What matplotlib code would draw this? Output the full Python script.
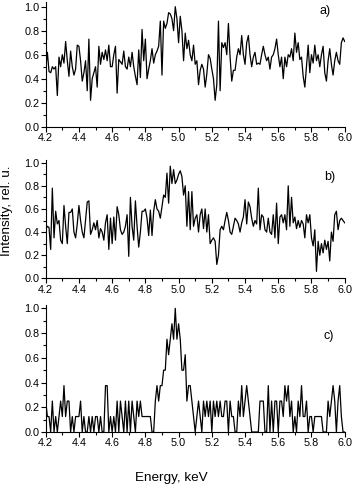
import numpy as np
import matplotlib
matplotlib.use("Agg")
import matplotlib.pyplot as plt
from matplotlib.ticker import MultipleLocator

plt.rcParams['font.family'] = ['Liberation Sans', 'DejaVu Sans']

# energy grid, keV (0.01 keV step)
energy = np.round(np.arange(4.20, 6.0001, 0.01), 2)

# a) intensity, rel. u.
int_a = [0.48, 0.62, 0.46, 0.45, 0.50, 0.48, 0.50, 0.26, 0.58, 0.50,
         0.60, 0.53, 0.71, 0.55, 0.42, 0.63, 0.50, 0.43, 0.48, 0.68,
         0.67, 0.55, 0.38, 0.45, 0.55, 0.30, 0.73, 0.22, 0.40, 0.45,
         0.50, 0.33, 0.67, 0.52, 0.62, 0.56, 0.64, 0.55, 0.68, 0.50,
         0.50, 0.60, 0.67, 0.28, 0.56, 0.54, 0.52, 0.63, 0.50, 0.48,
         0.58, 0.50, 0.62, 0.50, 0.42, 0.35, 0.64, 0.41, 0.81, 0.55,
         0.73, 0.40, 0.48, 0.55, 0.65, 0.53, 0.60, 0.63, 0.67, 0.88,
         0.43, 0.88, 0.82, 0.86, 0.95, 0.94, 0.90, 0.80, 1.00,
         0.90, 0.70, 0.92, 0.80, 0.55, 0.78, 0.65, 0.72, 0.60, 0.55,
         0.68, 0.52, 0.55, 0.35, 0.47, 0.52, 0.48, 0.33, 0.44, 0.60,
         0.57, 0.48, 0.40, 0.22, 0.35, 0.88, 0.30, 0.70, 0.66, 0.70,
         0.60, 0.86, 0.58, 0.38, 0.47, 0.47, 0.58, 0.65, 0.60, 0.76,
         0.60, 0.52, 0.70, 0.76, 0.60, 0.50, 0.58, 0.62, 0.52, 0.53,
         0.52, 0.60, 0.67, 0.60, 0.55, 0.58, 0.48, 0.58, 0.60, 0.65,
         0.73, 0.60, 0.50, 0.58, 0.40, 0.58, 0.50, 0.60, 0.58, 0.65,
         0.55, 0.78, 0.62, 0.70, 0.56, 0.58, 0.42, 0.33, 0.50, 0.68,
         0.45, 0.60, 0.53, 0.68, 0.55, 0.60, 0.50, 0.60, 0.67, 0.45,
         0.38, 0.55, 0.65, 0.52, 0.43, 0.55, 0.62, 0.55, 0.52, 0.70,
         0.74, 0.71]

# b)
int_b = [0.42, 0.45, 0.44, 0.25, 0.78, 0.35, 0.58, 0.47, 0.50, 0.33,
         0.30, 0.63, 0.45, 0.30, 0.57, 0.57, 0.60, 0.40, 0.35, 0.47,
         0.63, 0.50, 0.40, 0.35, 0.50, 0.66, 0.67, 0.38, 0.42, 0.48,
         0.42, 0.50, 0.35, 0.43, 0.40, 0.33, 0.48, 0.55, 0.25, 0.52,
         0.30, 0.53, 0.33, 0.62, 0.55, 0.42, 0.38, 0.40, 0.45, 0.55,
         0.19, 0.70, 0.45, 0.33, 0.67, 0.45, 0.27, 0.40, 0.58, 0.58,
         0.60, 0.52, 0.37, 0.59, 0.37, 0.58, 0.68, 0.60, 0.58, 0.52,
         0.62, 0.72, 0.70, 0.91, 0.65, 0.97, 0.82, 0.94, 0.82,
         0.85, 0.90, 0.93, 0.88, 0.72, 0.80, 0.45, 0.75, 0.42, 0.75,
         0.45, 0.52, 0.55, 0.40, 0.55, 0.60, 0.43, 0.60, 0.40, 0.55,
         0.30, 0.33, 0.35, 0.32, 0.12, 0.20, 0.42, 0.45, 0.42, 0.50,
         0.57, 0.50, 0.40, 0.38, 0.45, 0.52, 0.50, 0.47, 0.40, 0.48,
         0.53, 0.68, 0.47, 0.66, 0.62, 0.52, 0.45, 0.50, 0.47, 0.78,
         0.42, 0.55, 0.53, 0.42, 0.40, 0.52, 0.40, 0.38, 0.55, 0.35,
         0.65, 0.30, 0.53, 0.55, 0.48, 0.55, 0.42, 0.80, 0.45, 0.70,
         0.48, 0.53, 0.43, 0.50, 0.44, 0.50, 0.47, 0.35, 0.55, 0.48,
         0.55, 0.35, 0.28, 0.42, 0.06, 0.32, 0.20, 0.30, 0.22, 0.33,
         0.25, 0.32, 0.15, 0.40, 0.32, 0.55, 0.58, 0.42, 0.50, 0.52,
         0.50, 0.48]

# c) (counts normalised to 8)
int_c = [0.25, 0.125, 0.125, 0, 0.25, 0, 0.125, 0, 0.125, 0.25,
         0.125, 0.375, 0.125, 0.25, 0.25, 0, 0.125, 0, 0.125, 0.125,
         0.125, 0.25, 0, 0.125, 0, 0, 0.125, 0, 0.125, 0,
         0.125, 0.125, 0, 0.125, 0, 0, 0.375, 0.375, 0, 0.125,
         0, 0.125, 0, 0.25, 0, 0.25, 0.125, 0, 0.25, 0,
         0.25, 0, 0.25, 0.125, 0, 0.25, 0.125, 0.25, 0.125, 0.125,
         0.125, 0.125, 0.125, 0.125, 0, 0, 0.25, 0.375, 0.25, 0.375,
         0.375, 0.5, 0.5, 0.75, 0.625, 0.75, 0.875, 0.75, 1.0,
         0.75, 0.875, 0.75, 0.5, 0.5, 0.625, 0.25, 0.375, 0.375, 0.25,
         0.125, 0, 0.125, 0.25, 0.125, 0, 0.25, 0.125, 0.25, 0.125,
         0.25, 0, 0.25, 0.125, 0.25, 0.125, 0.25, 0.125, 0.125, 0.25,
         0.25, 0, 0.25, 0.125, 0.125, 0, 0, 0.25, 0.125, 0.375,
         0.125, 0.25, 0.375, 0.25, 0.125, 0, 0, 0, 0, 0,
         0.25, 0.25, 0.25, 0, 0, 0.375, 0, 0.25, 0, 0.25,
         0.25, 0, 0.25, 0.25, 0.125, 0.375, 0.25, 0.375, 0.125, 0.25,
         0, 0.125, 0, 0.25, 0.125, 0.375, 0.125, 0.125, 0.25, 0,
         0.125, 0.125, 0, 0.125, 0.125, 0.125, 0.125, 0.125, 0, 0,
         0, 0.25, 0.125, 0.25, 0.375, 0.25, 0, 0.25, 0.375, 0.125,
         0, 0]

series = [int_a, int_b, int_c]
labels = ["a)", "b)", "c)"]
ytops = [1.04, 1.02, 1.03]

W, H = 354, 488
fig = plt.figure(figsize=(W / 100, H / 100), dpi=100)

# axes boxes in pixels: (top, bottom)
boxes = [(1.9, 126.7), (160.4, 278.3), (304.6, 432.0)]
label_pos = [(325, 11), (330, 177), (329, 336)]
left, right = 45.7, 344.7

for y, lab, yt, (top, bot), (lx, ly) in zip(series, labels, ytops, boxes, label_pos):
    ax = fig.add_axes([left / W, 1 - bot / H, (right - left) / W, (bot - top) / H])
    ax.plot(energy, y, color="black", lw=0.9)
    ax.set_xlim(4.2, 6.0)
    ax.set_ylim(0, yt)
    ax.spines["top"].set_visible(False)
    ax.spines["right"].set_visible(False)
    ax.spines["left"].set_linewidth(0.8)
    ax.spines["bottom"].set_linewidth(0.8)
    ax.xaxis.set_major_locator(MultipleLocator(0.2))
    ax.xaxis.set_minor_locator(MultipleLocator(0.1))
    ax.yaxis.set_major_locator(MultipleLocator(0.2))
    ax.yaxis.set_minor_locator(MultipleLocator(0.1))
    ax.xaxis.set_major_formatter(plt.FormatStrFormatter("%.1f"))
    ax.yaxis.set_major_formatter(plt.FormatStrFormatter("%.1f"))
    ax.tick_params(which="major", direction="out", length=3.5, width=0.8,
                   labelsize=7.8, pad=1)
    ax.tick_params(which="minor", direction="out", length=2, width=0.8)
    fig.text(lx / W, 1 - ly / H, lab, ha="center", va="center", fontsize=9)

fig.text(7.5 / W, 1 - 211 / H, "Intensity, rel. u.", rotation=90,
         ha="center", va="center", fontsize=9.7)
fig.text(171 / W, 1 - 478 / H, "Energy, keV", ha="center", va="center",
         fontsize=9.7)

fig.savefig("out.png", dpi=100)
